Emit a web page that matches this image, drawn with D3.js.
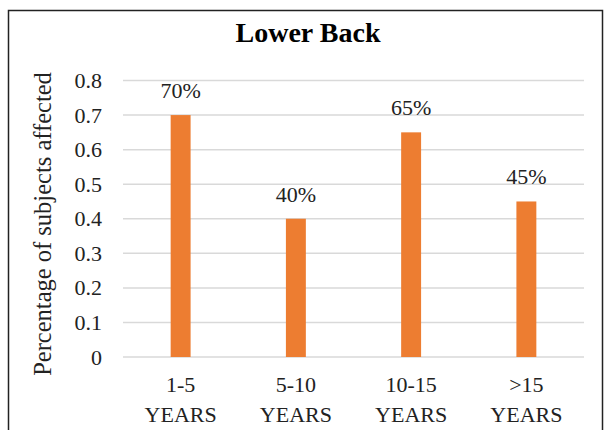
<!DOCTYPE html>
<html>
<head>
<meta charset="utf-8">
<script src="https://cdn.jsdelivr.net/npm/d3@7"></script>
<style>
  body { margin: 0; background: #fff; }
  text { font-family: "Liberation Serif", "Times New Roman", serif; }
</style>
</head>
<body>
<script>
// chart data
const categories = ["1-5", "5-10", "10-15", ">15"];
const catSuffix = "YEARS";
const values = [0.70, 0.40, 0.65, 0.45];
const valueLabels = ["70%", "40%", "65%", "45%"];
const yTicks = [0, 0.1, 0.2, 0.3, 0.4, 0.5, 0.6, 0.7, 0.8];

const W = 604, H = 430;
const plot = { left: 123, right: 584, top: 80.5, bottom: 357 };

var svg = d3.select("body").append("svg")
  .attr("width", W)
  .attr("height", H);

// outer frame
svg.append("rect")
  .attr("x", 8.5).attr("y", 10.5)
  .attr("width", 594).attr("height", 440)
  .attr("fill", "none")
  .attr("stroke", "#222")
  .attr("stroke-width", 1.5);

// scales
var x = d3.scaleBand()
  .domain(categories)
  .range([plot.left, plot.right])
  .paddingInner(0.827)
  .paddingOuter(0.4135);

var y = d3.scaleLinear()
  .domain([0, 0.8])
  .range([plot.bottom, plot.top]);

// gridlines
svg.append("g")
  .selectAll("line")
  .data(yTicks)
  .join("line")
  .attr("x1", plot.left).attr("x2", plot.right)
  .attr("y1", d => y(d)).attr("y2", d => y(d))
  .attr("stroke", "#d9d9d9")
  .attr("stroke-width", 1.5);

// y axis labels
var yAxis = svg.append("g")
  .attr("transform", "translate(" + plot.left + ",0)")
  .call(d3.axisLeft(y).tickValues(yTicks).tickSize(0).tickPadding(21)
    .tickFormat(d => d === 0 ? "0" : d3.format(".1f")(d)));
yAxis.select(".domain").remove();
yAxis.selectAll("text")
  .attr("font-size", "22px")
  .attr("fill", "#222");

// bars
svg.append("g")
  .selectAll("rect")
  .data(values)
  .join("rect")
  .attr("x", (d, i) => x(categories[i]))
  .attr("y", d => y(d))
  .attr("width", x.bandwidth())
  .attr("height", d => y(0) - y(d))
  .attr("fill", "#ed7d31");

// value labels
svg.append("g")
  .selectAll("text")
  .data(values)
  .join("text")
  .attr("x", (d, i) => x(categories[i]) + x.bandwidth() / 2)
  .attr("y", d => y(d) - 17)
  .attr("text-anchor", "middle")
  .attr("font-size", "22px")
  .attr("fill", "#222")
  .text((d, i) => valueLabels[i]);

// x axis labels (two lines)
var xl = svg.append("g")
  .selectAll("text")
  .data(categories)
  .join("text")
  .attr("text-anchor", "middle")
  .attr("font-size", "22px")
  .attr("fill", "#222");
xl.append("tspan")
  .attr("x", d => x(d) + x.bandwidth() / 2)
  .attr("y", 392)
  .text(d => d);
xl.append("tspan")
  .attr("x", d => x(d) + x.bandwidth() / 2)
  .attr("y", 421.5)
  .text(catSuffix);

// title
svg.append("text")
  .attr("x", 308).attr("y", 42)
  .attr("text-anchor", "middle")
  .attr("font-size", "28px")
  .attr("font-weight", "bold")
  .attr("fill", "#000")
  .text("Lower Back");

// y axis title
svg.append("text")
  .attr("transform", "translate(51,224) rotate(-90)")
  .attr("text-anchor", "middle")
  .attr("font-size", "24.5px")
  .attr("fill", "#222")
  .text("Percentage of subjects affected");
</script>
</body>
</html>
